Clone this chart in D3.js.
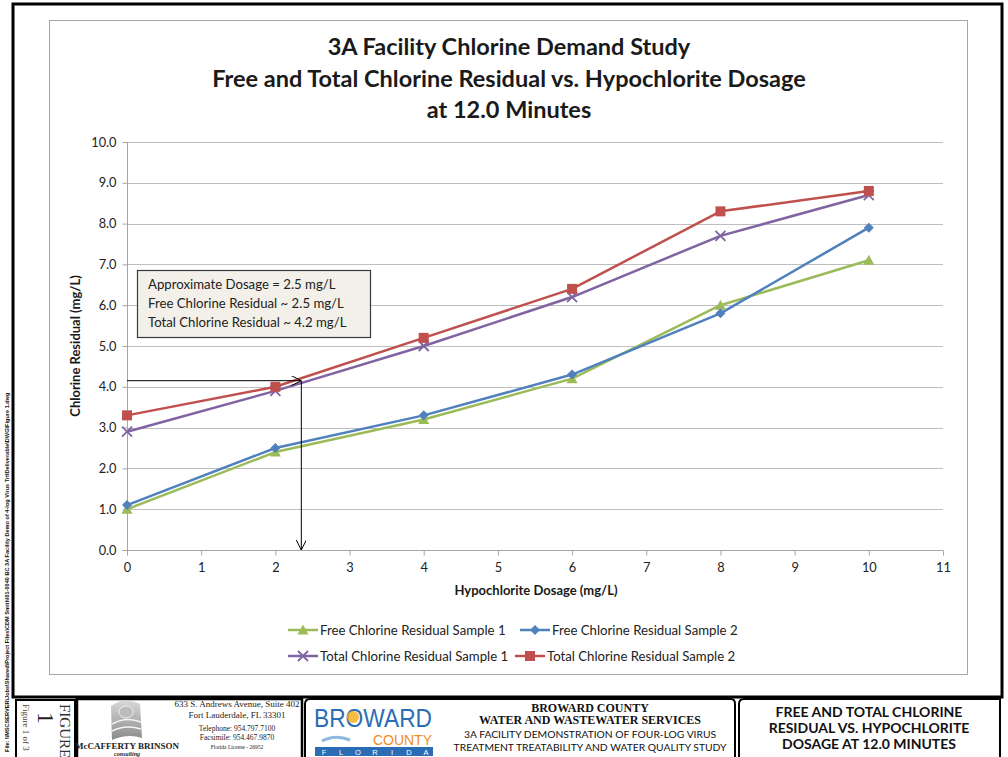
<!DOCTYPE html>
<html><head><meta charset="utf-8">
<script src="https://cdn.jsdelivr.net/npm/d3@7"></script>
<style>body{margin:0;background:#fff}svg{display:block}</style>
</head><body>
<script>
const dosage = [0, 2, 4, 6, 8, 10];
const free1 = [1.0, 2.4, 3.2, 4.2, 6.0, 7.1];
const free2 = [1.1, 2.5, 3.3, 4.3, 5.8, 7.9];
const total1 = [2.9, 3.9, 5.0, 6.2, 7.7, 8.7];
const total2 = [3.3, 4.0, 5.2, 6.4, 8.3, 8.8];
const seriesNames = ["Free Chlorine Residual Sample 1","Free Chlorine Residual Sample 2","Total Chlorine Residual Sample 1","Total Chlorine Residual Sample 2"];
const xTicks = [0,1,2,3,4,5,6,7,8,9,10,11];
const yTicks = [0,1,2,3,4,5,6,7,8,9,10];
const titleLines = ["3A Facility Chlorine Demand Study","Free and Total Chlorine Residual vs. Hypochlorite Dosage","at 12.0 Minutes"];
const noteLines = ["Approximate Dosage = 2.5 mg/L","Free Chlorine Residual ~ 2.5 mg/L","Total Chlorine Residual ~ 4.2 mg/L"];
const noteDose = 2.35, noteResidual = 4.15;

const W=1008,H=757;
const svg=d3.select("body").append("svg").attr("width",W).attr("height",H);
const F="Lato, 'Open Sans', sans-serif";
const colors=["#9bbb59","#4f81bd","#8064a2","#c0504d"];
const shapes=["tri","dia","x","sq"];
const data=[free1,free2,total1,total2];

// frames
svg.append("rect").attr("x",13).attr("y",4).attr("width",989).attr("height",693).attr("fill","none").attr("stroke","#000").attr("stroke-width",3);
svg.append("rect").attr("x",49.5).attr("y",20.5).attr("width",918).attr("height",654).attr("fill","none").attr("stroke","#a6a6a6").attr("stroke-width",1);

const x=d3.scaleLinear().domain([0,11]).range([127,943]);
const y=d3.scaleLinear().domain([0,10]).range([550,142]);

// title
svg.append("g").selectAll("text").data(titleLines).join("text")
 .attr("x",509).attr("y",(d,i)=>55+i*31.5).attr("text-anchor","middle")
 .attr("font-family",F).attr("font-weight","bold").attr("font-size",23.5).attr("fill","#1a1a1a").text(d=>d);

// grid
svg.append("g").selectAll("line").data(yTicks.filter(d=>d>0)).join("line")
 .attr("x1",x(0)).attr("x2",x(11)).attr("y1",d=>Math.round(y(d))+0.5).attr("y2",d=>Math.round(y(d))+0.5)
 .attr("stroke","#bfbfbf").attr("stroke-width",1);

// axes
const ya=svg.append("g").attr("transform",`translate(${x(0)+0.5},0)`)
 .call(d3.axisLeft(y).tickValues(yTicks).tickFormat(d3.format(".1f")).tickSize(5).tickPadding(6));
const xa=svg.append("g").attr("transform",`translate(0,${Math.round(y(0))+0.5})`)
 .call(d3.axisBottom(x).tickValues(xTicks).tickFormat(d3.format("d")).tickSize(5).tickPadding(7));
[ya,xa].forEach(a=>{a.selectAll("path,line").attr("stroke","#a6a6a6");a.selectAll("text").attr("font-family",F).attr("font-size",12.8).attr("fill","#222");});
xa.select(".domain").attr("d",`M${x(0)},0H${x(11)}`);
ya.select(".domain").attr("d",`M0,${y(10)}V${y(0)}`);

svg.append("text").attr("transform",`translate(80,${y(5)}) rotate(-90)`).attr("text-anchor","middle")
 .attr("font-family",F).attr("font-weight","bold").attr("font-size",13).attr("fill","#1a1a1a").text("Chlorine Residual (mg/L)");
svg.append("text").attr("x",536).attr("y",595).attr("text-anchor","middle")
 .attr("font-family",F).attr("font-weight","bold").attr("font-size",13).attr("fill","#1a1a1a").text("Hypochlorite Dosage (mg/L)");

function marker(g,shape,color){
  if(shape==="tri") g.append("path").attr("d","M0,-5.5L5.5,4.5L-5.5,4.5Z").attr("fill",color);
  else if(shape==="dia") g.append("path").attr("d","M0,-5L5,0L0,5L-5,0Z").attr("fill",color);
  else if(shape==="sq") g.append("rect").attr("x",-5).attr("y",-5).attr("width",10).attr("height",10).attr("fill",color);
  else g.append("path").attr("d","M-5,-5L5,5M-5,5L5,-5").attr("stroke",color).attr("stroke-width",1.8);
}
const line=d3.line().x((d,i)=>x(dosage[i])).y(d=>y(d));
data.forEach((vals,k)=>{
  svg.append("path").attr("d",line(vals)).attr("fill","none").attr("stroke",colors[k]).attr("stroke-width",2.5).attr("stroke-linejoin","round");
});
data.forEach((vals,k)=>{
  vals.forEach((v,i)=>{const g=svg.append("g").attr("transform",`translate(${x(dosage[i])},${y(v)})`);marker(g,shapes[k],colors[k]);});
});

// annotation arrows
const defs=svg.append("defs");
defs.append("marker").attr("id","ah").attr("viewBox","0 0 10 10").attr("refX",10).attr("refY",5)
 .attr("markerWidth",10).attr("markerHeight",10).attr("markerUnits","userSpaceOnUse").attr("orient","auto")
 .append("path").attr("d","M0,0L10,5L0,10").attr("fill","none").attr("stroke","#000").attr("stroke-width",1);
svg.append("line").attr("x1",x(0)).attr("x2",x(noteDose)).attr("y1",y(noteResidual)).attr("y2",y(noteResidual))
 .attr("stroke","#000").attr("stroke-width",1).attr("marker-end","url(#ah)");
svg.append("line").attr("x1",x(noteDose)).attr("x2",x(noteDose)).attr("y1",y(noteResidual)).attr("y2",y(0))
 .attr("stroke","#000").attr("stroke-width",1).attr("marker-end","url(#ah)");

// note box
svg.append("rect").attr("x",137.5).attr("y",270.5).attr("width",233).attr("height",67).attr("fill","#f2f0e8").attr("stroke","#3a3a3a").attr("stroke-width",1.2);
svg.append("g").selectAll("text").data(noteLines).join("text").attr("x",148).attr("y",(d,i)=>289+i*19)
 .attr("font-family",F).attr("font-size",13.2).attr("fill","#222").text(d=>d);

// legend
const legPos=[[288,630],[520,630],[288,656],[515,656]];
seriesNames.forEach((n,k)=>{
  const [lx,ly]=legPos[k];
  const g=svg.append("g").attr("transform",`translate(${lx},${ly})`);
  g.append("line").attr("x1",0).attr("x2",30).attr("stroke",colors[k]).attr("stroke-width",2.5);
  marker(g.append("g").attr("transform","translate(15,0)"),shapes[k],colors[k]);
  g.append("text").attr("x",32).attr("y",4.5).attr("font-family",F).attr("font-size",13.2).attr("fill","#222").text(n);
});

// left file path text
svg.append("text").attr("transform","translate(9,752) rotate(-90)").attr("font-family","'Liberation Sans Narrow','Liberation Sans',sans-serif")
 .attr("font-weight","bold").attr("font-size",5.6).attr("fill","#111")
 .text("File: \\\\MSCSERVER\\Jobs\\Shared\\Project Files\\CDM Smith\\01-0040 BC 3A Facility Demo of 4-log Virus Trt\\Deliverable\\DWG\\Figure 1.dwg");

// bottom title block
const bl=svg.append("g");
bl.append("path").attr("d","M16,757V700H75V757").attr("fill","none").attr("stroke","#000").attr("stroke-width",2);
bl.append("path").attr("d","M77,757V699H302V757").attr("fill","none").attr("stroke","#000").attr("stroke-width",2.5);
bl.append("path").attr("d","M305,757V704Q305,699 310,699H731Q735,699 735,704V757").attr("fill","none").attr("stroke","#000").attr("stroke-width",2);
bl.append("path").attr("d","M739,757V704Q739,699 744,699H1000V757").attr("fill","none").attr("stroke","#000").attr("stroke-width",2);

bl.append("text").attr("transform","translate(60,704) rotate(90)").attr("font-family","'Liberation Serif',serif").attr("font-size",15).attr("fill","#333").text("FIGURE");
bl.append("text").attr("transform","translate(38,712) rotate(90)").attr("font-family","'Liberation Serif',serif").attr("font-size",24).attr("fill","#222").text("1");
bl.append("text").attr("transform","translate(23,704) rotate(90)").attr("font-family","'Liberation Serif',serif").attr("font-size",9).attr("fill","#444").text("Figure 1 of 3");

// McCafferty logo
const grad=defs.append("linearGradient").attr("id","mg").attr("x1","0").attr("x2","0").attr("y1","0").attr("y2","1");
grad.append("stop").attr("offset","0").attr("stop-color","#d8d8d8");
grad.append("stop").attr("offset","1").attr("stop-color","#8a8a8a");
bl.append("path").attr("d","M111,706Q124,696 140,704L142,738Q128,733 112,740Z").attr("fill","url(#mg)");
bl.append("ellipse").attr("cx",126).attr("cy",712).attr("rx",7).attr("ry",6).attr("fill","#bbb").attr("stroke","#eee");
bl.append("path").attr("d","M112,724Q126,716 141,722M112,731Q126,724 141,729").attr("fill","none").attr("stroke","#f4f4f4").attr("stroke-width",1.5);
bl.append("text").attr("x",127).attr("y",749).attr("text-anchor","middle").attr("font-family","'Liberation Serif',serif").attr("font-weight","bold").attr("font-size",9).attr("fill","#222").text("McCAFFERTY BRINSON");
bl.append("text").attr("x",127).attr("y",756).attr("text-anchor","middle").attr("font-family","'Liberation Serif',serif").attr("font-style","italic").attr("font-weight","bold").attr("font-size",6).attr("fill","#222").text("consulting");
const addr=[["633 S. Andrews Avenue, Suite 402",9,707],["Fort Lauderdale, FL 33301",9,718],["Telephone: 954.797.7100",7.5,731],["Facsimile: 954.467.9870",7.5,740],["Florida License - 26952",5.5,749]];
addr.forEach(([t,s,yy])=>bl.append("text").attr("x",237).attr("y",yy).attr("text-anchor","middle").attr("font-family","'Liberation Serif',serif").attr("font-size",s).attr("fill","#222").text(t));

// Broward logo
bl.append("text").attr("x",314).attr("y",727).attr("font-family","'Liberation Sans Narrow','Liberation Sans',sans-serif").attr("font-size",26).attr("fill","#2a6db5").attr("textLength",118).attr("lengthAdjust","spacingAndGlyphs").text("BROWARD");
bl.append("circle").attr("cx",353).attr("cy",717).attr("r",6).attr("fill","#f5b323").attr("opacity",0.85);
bl.append("text").attr("x",432).attr("y",745).attr("text-anchor","end").attr("font-family","'Liberation Sans',sans-serif").attr("font-size",14).attr("fill","#f08c1e").text("COUNTY");
bl.append("path").attr("d","M322,741Q335,734 350,740").attr("fill","none").attr("stroke","#8fb8e0").attr("stroke-width",3);
bl.append("rect").attr("x",315).attr("y",747).attr("width",118).attr("height",9).attr("fill","#2a6db5");
"FLORIDA".split("").forEach((c,i)=>bl.append("text").attr("x",324+i*17).attr("y",755).attr("text-anchor","middle").attr("font-family","'Liberation Sans',sans-serif").attr("font-size",7.5).attr("fill","#fff").text(c));

const bc=[["BROWARD COUNTY",12,"bold","'Liberation Serif',serif",712],["WATER AND WASTEWATER SERVICES",12,"bold","'Liberation Serif',serif",724],["3A FACILITY DEMONSTRATION OF FOUR-LOG VIRUS",10.3,"normal",F,738],["TREATMENT TREATABILITY AND WATER QUALITY STUDY",10.3,"normal",F,751]];
bc.forEach(([t,s,w,ff,yy])=>bl.append("text").attr("x",590).attr("y",yy).attr("text-anchor","middle").attr("font-family",ff).attr("font-weight",w).attr("font-size",s).attr("fill","#111").text(t));

["FREE AND TOTAL CHLORINE","RESIDUAL VS. HYPOCHLORITE","DOSAGE AT 12.0 MINUTES"].forEach((t,i)=>bl.append("text").attr("x",869).attr("y",717+i*16).attr("text-anchor","middle").attr("font-family",F).attr("font-weight","bold").attr("font-size",14).attr("fill","#111").text(t));
</script>
</body></html>
